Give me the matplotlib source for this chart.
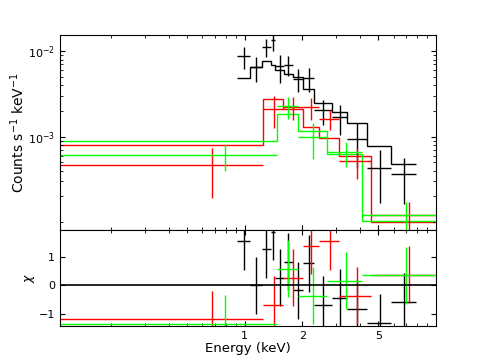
import numpy as np
import matplotlib.pyplot as plt
from matplotlib.ticker import FixedLocator, FixedFormatter, NullFormatter

# spectrum 1 (black): bin edges in keV, rate, 1-sigma error, folded model, residual
blk_edges = [0.913, 1.062, 1.228, 1.368, 1.447, 1.600, 1.784, 2.012, 2.311, 2.844, 3.420, 4.337, 5.812, 7.858]
blk_rate = [0.0087, 0.00647, 0.01125, 0.0136, 0.00665, 0.00693, 0.00478, 0.00486, 0.00203, 0.0017, 0.00094, 0.000433, 0.000365]
blk_err = [0.0025, 0.0021, 0.00268, 0.0036, 0.0024, 0.0018, 0.00146, 0.00152, 0.00066, 0.00065, 0.00051, 0.000266, 0.0002]
blk_model = [0.00491, 0.0065, 0.0077, 0.00691, 0.00604, 0.00538, 0.00504, 0.00362, 0.0025, 0.00196, 0.001435, 0.000784, 0.000479]
blk_resid = [1.54, 0.0, 1.27, 1.87, 0.27, 0.83, -0.17, 0.77, -0.68, -0.43, -0.83, -1.31, -0.58]

# spectrum 2 (red)
red_edges = [0.106, 1.247, 1.587, 2.005, 2.434, 3.124, 4.568, 9.9]
red_rate = [0.000465, 0.00213, 0.00225, 0.0022, 0.00163, 0.000524, 0.00012]
red_err = [0.000273, 0.00087, 0.00069, 0.00062, 0.00043, 0.000207, 0.000053]
red_model = [0.000793, 0.00274, 0.00209, 0.00129, 0.000958, 0.000594, 0.0001]
red_resid = [-1.19, -0.69, 0.27, 1.38, 1.54, -0.37, 0.37]

# spectrum 3 (green)
grn_edges = [0.106, 1.466, 1.888, 2.678, 4.083, 9.9]
grn_rate = [0.00061, 0.00227, 0.00099, 0.00066, 0.000122]
grn_err = [0.00021, 0.00067, 0.000446, 0.000215, 0.000052]
grn_model = [0.000898, 0.001844, 0.00115, 0.000628, 0.000102]
grn_resid = [-1.35, 0.58, -0.37, 0.16, 0.36]

spectra = [
    (blk_edges, blk_rate, blk_err, blk_model, blk_resid, 'black'),
    (red_edges, red_rate, red_err, red_model, red_resid, '#ff0000'),
    (grn_edges, grn_rate, grn_err, grn_model, grn_resid, '#00ff00'),
]

fig = plt.figure(figsize=(4.85, 3.63), dpi=100)
ax1 = fig.add_axes([0.1237, 0.3664, 0.7753, 0.5364])
ax2 = fig.add_axes([0.1237, 0.1019, 0.7753, 0.2645], sharex=ax1)

for edges, rate, err, model, resid, col in spectra:
    e = np.array(edges)
    cen = (e[:-1] + e[1:]) / 2
    half = (e[1:] - e[:-1]) / 2
    ax1.errorbar(cen, rate, xerr=half, yerr=err, fmt='none', ecolor=col, elinewidth=1, capsize=0)
    ax1.stairs(model, e, baseline=None, color=col, lw=1)
    ax2.errorbar(cen, resid, xerr=half, yerr=1, fmt='none', ecolor=col, elinewidth=1, capsize=0)

ax2.axhline(0, color='black', lw=1.2)

ax1.set_xscale('log')
ax1.set_yscale('log')
ax1.set_xlim(0.108, 10.0)
ax1.set_ylim(8.08e-5, 0.01538)
ax1.yaxis.set_major_locator(FixedLocator([1e-3, 1e-2]))
yminor = [k * 10.0**p for p in (-4, -3, -2) for k in range(1, 10) if not (k == 1 and p > -4)]
ax1.yaxis.set_minor_locator(FixedLocator(yminor))
ax1.yaxis.set_minor_formatter(NullFormatter())

xminor = [k * 0.1 for k in range(2, 10)] + [3, 4, 6, 7, 8, 9, 10]
ax2.xaxis.set_major_locator(FixedLocator([1, 2, 5]))
ax2.xaxis.set_major_formatter(FixedFormatter(['1', '2', '5']))
ax2.xaxis.set_minor_locator(FixedLocator(xminor))
ax2.xaxis.set_minor_formatter(NullFormatter())

ax2.set_ylim(-1.43, 1.94)
ax2.set_yticks([-1, 0, 1])

for ax in (ax1, ax2):
    ax.tick_params(which='both', direction='in', top=True, right=True, labelsize=8)
    ax.tick_params(which='major', length=3.5)
    ax.tick_params(which='minor', length=2)
ax1.tick_params(labelbottom=False)

ax1.set_ylabel('Counts s$^{-1}$ keV$^{-1}$', fontsize=10, labelpad=1)
ax2.set_ylabel(r'$\chi$', fontsize=9, labelpad=1)
ax2.set_xlabel('Energy (keV)', fontsize=9.5, labelpad=1)

fig.savefig('out.png', dpi=100)
